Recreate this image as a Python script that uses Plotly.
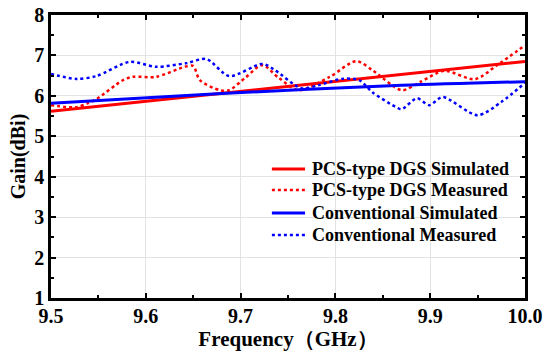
import plotly.graph_objects as go

# Simulated curves
pcs_sim_freq = [9.5, 10.0]
pcs_sim_gain = [5.62, 6.85]
conv_sim_freq = [9.5, 9.68, 9.87, 10.0]
conv_sim_gain = [5.82, 6.06, 6.26, 6.35]

# Measured curves
pcs_meas_freq = [9.5, 9.527, 9.539, 9.548, 9.576, 9.586, 9.611, 9.641, 9.65, 9.657, 9.678, 9.688,
                 9.705, 9.723, 9.74, 9.761, 9.794, 9.822, 9.84, 9.870, 9.89, 9.915, 9.947, 9.97, 10.0]
pcs_meas_gain = [5.77, 5.72, 5.82, 5.92, 6.39, 6.47, 6.47, 6.72, 6.74, 6.39, 6.14, 6.14,
                 6.45, 6.76, 6.45, 6.14, 6.47, 6.86, 6.62, 6.14, 6.35, 6.62, 6.41, 6.75, 7.25]
conv_meas_freq = [9.5, 9.527, 9.548, 9.583, 9.611, 9.643, 9.664, 9.688, 9.723, 9.736, 9.764, 9.783,
                  9.807, 9.825, 9.839, 9.864, 9.870, 9.886, 9.899, 9.913, 9.950, 9.975, 10.0]
conv_meas_gain = [6.54, 6.42, 6.49, 6.84, 6.72, 6.81, 6.91, 6.49, 6.79, 6.64, 6.19, 6.27,
                  6.42, 6.39, 6.09, 5.72, 5.67, 5.94, 5.77, 5.97, 5.52, 5.85, 6.32]

series_names = ["PCS-type DGS Simulated", "PCS-type DGS Measured",
                "Conventional Simulated", "Conventional Measured"]

FONT = "Liberation Serif"
RED = "#ff0000"
BLUE = "#0000ff"

styles = [
    dict(color=RED, width=3, dash="solid"),
    dict(color=RED, width=2.5, dash="dot"),
    dict(color=BLUE, width=3, dash="solid"),
    dict(color=BLUE, width=2.5, dash="dot"),
]

fig = go.Figure()
data = [(pcs_sim_freq, pcs_sim_gain), (pcs_meas_freq, pcs_meas_gain),
        (conv_sim_freq, conv_sim_gain), (conv_meas_freq, conv_meas_gain)]
for (fx, gy), name, st in zip(data, series_names, styles):
    fig.add_trace(go.Scatter(x=fx, y=gy, mode="lines", name=name, showlegend=False,
                             line=dict(color=st["color"], width=st["width"], dash=st["dash"],
                                       shape="spline", smoothing=0.8)))

# Manual legend (paper coordinates)
legend_rows_y = [0.456, 0.382, 0.300, 0.223]
for ly, name, st in zip(legend_rows_y, series_names, styles):
    fig.add_shape(type="line", xref="paper", yref="paper", x0=0.466, x1=0.536, y0=ly, y1=ly,
                  line=dict(color=st["color"], width=st["width"], dash=st["dash"]))
    fig.add_annotation(xref="paper", yref="paper", x=0.547, y=ly, xanchor="left", yanchor="middle",
                       text="<b>" + name + "</b>", showarrow=False,
                       font=dict(family=FONT, size=18, color="black"))

axis_common = dict(
    showline=True, linecolor="black", linewidth=2.5, mirror="allticks",
    ticks="inside", ticklen=5, tickwidth=2, tickcolor="black",
    showgrid=True, gridcolor="#e3e3e3", gridwidth=1,
    zeroline=False, automargin=False,
    tickfont=dict(family=FONT, size=20, color="black", weight="bold"),
)

fig.update_xaxes(**axis_common, range=[9.5, 10.0], tickvals=[9.5, 9.6, 9.7, 9.8, 9.9, 10.0],
                 ticktext=["9.5", "9.6", "9.7", "9.8", "9.9", "10.0"], ticklabelstandoff=-2,
                 minor=dict(ticks="inside", ticklen=3, tickwidth=2, tickcolor="black",
                            tickvals=[9.55, 9.65, 9.75, 9.85, 9.95], showgrid=False),
                 title=dict(text="<b>Frequency（GHz）</b>", standoff=0,
                            font=dict(family=FONT, size=21, color="black")))
fig.update_yaxes(**axis_common, range=[1, 8], tickvals=[1, 2, 3, 4, 5, 6, 7, 8],
                 minor=dict(ticks="inside", ticklen=3, tickwidth=2, tickcolor="black",
                            dtick=0.5, showgrid=False),
                 title=dict(text="<b>Gain(dBi)</b>", standoff=4,
                            font=dict(family=FONT, size=20, color="black")))

fig.update_layout(
    width=550, height=359,
    margin=dict(l=51, r=25, t=15, b=61),
    paper_bgcolor="white", plot_bgcolor="white",
    showlegend=False,
)

fig.write_html("out.html", config={"displayModeBar": False},
               post_script="document.body.style.margin='0';document.body.style.overflow='hidden';")
